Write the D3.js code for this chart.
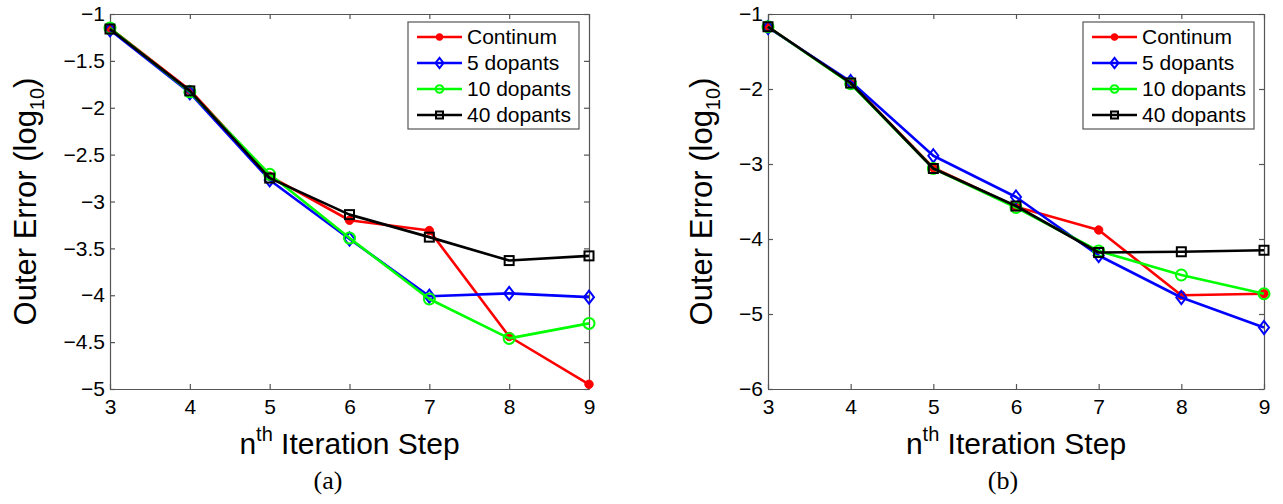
<!DOCTYPE html>
<html><head><meta charset="utf-8">
<script src="https://cdn.jsdelivr.net/npm/d3@7"></script>
<style>body{margin:0;background:#fff}svg{display:block}</style>
</head><body>
<svg id="c" width="1283" height="504"></svg>
<script>
// ---- data ----
const steps = [3, 4, 5, 6, 7, 8, 9];
const seriesNames = ["Continum", "5 dopants", "10 dopants", "40 dopants"];

const aContinum = [-1.15, -1.81, -2.73, -3.20, -3.31, -4.44, -4.95];
const aDop5     = [-1.17, -1.84, -2.77, -3.40, -4.01, -3.98, -4.02];
const aDop10    = [-1.15, -1.83, -2.71, -3.39, -4.04, -4.46, -4.30];
const aDop40    = [-1.16, -1.82, -2.75, -3.14, -3.38, -3.63, -3.58];

const bContinum = [-1.17, -1.92, -3.05, -3.57, -3.88, -4.75, -4.73];
const bDop5     = [-1.18, -1.90, -2.89, -3.44, -4.22, -4.78, -5.18];
const bDop10    = [-1.17, -1.93, -3.06, -3.58, -4.16, -4.48, -4.73];
const bDop40    = [-1.17, -1.92, -3.06, -3.56, -4.18, -4.17, -4.15];

const xTicks  = [3, 4, 5, 6, 7, 8, 9];
const aYTicks = [-1, -1.5, -2, -2.5, -3, -3.5, -4, -4.5, -5];
const bYTicks = [-1, -2, -3, -4, -5, -6];
const captions = ["(a)", "(b)"];

// ---- styles ----
const colors = ["#ff0000", "#0000ff", "#00ff00", "#000000"];
const markers = ["dot", "diamond", "circle", "square"];
const axisColor = "#555";
const sans = "'Liberation Sans', Arial, Helvetica, sans-serif";
const serif = "'Liberation Serif', 'DejaVu Serif', serif";

const svg = d3.select("#c");
const fmt = d => String(d).replace("-", "\u2212");

function drawMarker(g, type, color, x, y, legend) {
  const s = legend ? 0.8 : 1;
  if (type === "dot") {
    g.append("circle").attr("cx", x).attr("cy", y).attr("r", 4.2 * s)
      .attr("fill", color).attr("stroke", color).attr("stroke-width", 1);
  } else if (type === "diamond") {
    const w = 5 * s, h = 6.5 * s;
    g.append("path").attr("d", `M${x},${y - h}L${x + w},${y}L${x},${y + h}L${x - w},${y}Z`)
      .attr("fill", "none").attr("stroke", color).attr("stroke-width", 2);
  } else if (type === "circle") {
    g.append("circle").attr("cx", x).attr("cy", y).attr("r", (legend ? 3.8 : 5.5))
      .attr("fill", "none").attr("stroke", color).attr("stroke-width", 2);
  } else {
    const h = legend ? 3.5 : 4.5;
    g.append("rect").attr("x", x - h).attr("y", y - h).attr("width", 2 * h).attr("height", 2 * h)
      .attr("fill", "none").attr("stroke", color).attr("stroke-width", 2);
  }
}

function panel(cfg) {
  const { left, right, top, bottom, yDomain, yTicks, series, legendX, caption, ylabelX, captionX } = cfg;
  const x = d3.scaleLinear().domain([3, 9]).range([left, right]);
  const y = d3.scaleLinear().domain(yDomain).range([top, bottom]);
  const g = svg.append("g");

  const styleAxis = (sel) => {
    sel.attr("font-size", 21).attr("font-family", sans);
    sel.select(".domain").attr("stroke", axisColor).attr("stroke-width", 1.2);
    sel.selectAll(".tick line").attr("stroke", axisColor).attr("stroke-width", 1.2);
    sel.selectAll(".tick text").attr("fill", "#000").style("font-size", "21px").style("font-family", sans);
  };
  const bx = g.append("g").attr("transform", `translate(0,${bottom})`)
    .call(d3.axisBottom(x).tickValues(xTicks).tickSizeInner(-5).tickSizeOuter(0).tickPadding(10).tickFormat(d => d));
  styleAxis(bx);
  const tx = g.append("g").attr("transform", `translate(0,${top})`)
    .call(d3.axisTop(x).tickValues(xTicks).tickSizeInner(-5).tickSizeOuter(0).tickFormat(""));
  styleAxis(tx);
  const ly = g.append("g").attr("transform", `translate(${left},0)`)
    .call(d3.axisLeft(y).tickValues(yTicks).tickSizeInner(-5).tickSizeOuter(0).tickPadding(5).tickFormat(fmt));
  styleAxis(ly);
  const ry = g.append("g").attr("transform", `translate(${right},0)`)
    .call(d3.axisRight(y).tickValues(yTicks).tickSizeInner(-5).tickSizeOuter(0).tickFormat(""));
  styleAxis(ry);

  const line = d3.line().x((d, i) => x(steps[i])).y(d => y(d));
  series.forEach((vals, k) => {
    g.append("path").datum(vals).attr("d", line).attr("fill", "none")
      .attr("stroke", colors[k]).attr("stroke-width", 2.6).attr("stroke-linejoin", "round");
    vals.forEach((v, i) => drawMarker(g, markers[k], colors[k], x(steps[i]), y(v), false));
  });

  const lg = g.append("g");
  const lw = 171, lh = 107, ly0 = 22;
  lg.append("rect").attr("x", legendX).attr("y", ly0).attr("width", lw).attr("height", lh)
    .attr("fill", "#fff").attr("stroke", axisColor).attr("stroke-width", 1.2);
  seriesNames.forEach((nm, k) => {
    const yy = ly0 + 15 + k * 26;
    lg.append("line").attr("x1", legendX + 9).attr("x2", legendX + 54).attr("y1", yy).attr("y2", yy)
      .attr("stroke", colors[k]).attr("stroke-width", 2.6);
    drawMarker(lg, markers[k], colors[k], legendX + 31.5, yy, true);
    lg.append("text").attr("x", legendX + 59).attr("y", yy).attr("dy", "0.35em")
      .attr("font-family", sans).attr("font-size", 21).attr("fill", "#000").text(nm);
  });

  const xl = g.append("text").attr("x", (left + right) / 2).attr("y", 454).attr("text-anchor", "middle")
    .attr("font-family", sans).attr("font-size", 30).attr("fill", "#000");
  xl.append("tspan").text("n");
  xl.append("tspan").attr("font-size", 20).attr("dy", -13).text("th");
  xl.append("tspan").attr("dy", 13).text(" Iteration Step");

  const yl = g.append("text").attr("transform", `translate(${ylabelX},${(top + bottom) / 2}) rotate(-90)`)
    .attr("text-anchor", "middle").attr("font-family", sans).attr("font-size", 31).attr("fill", "#000");
  yl.append("tspan").text("Outer Error (log");
  yl.append("tspan").attr("font-size", 20).attr("dy", 8).text("10");
  yl.append("tspan").attr("dy", -8).text(")");

  g.append("text").attr("x", captionX).attr("y", 489).attr("text-anchor", "middle")
    .attr("font-family", serif).attr("font-size", 26).attr("fill", "#000").text(caption);
}

panel({ left: 110, right: 589, top: 14, bottom: 389, yDomain: [-1, -5], yTicks: aYTicks,
  series: [aContinum, aDop5, aDop10, aDop40], legendX: 408, caption: captions[0], ylabelX: 36, captionX: 328 });
panel({ left: 768, right: 1264, top: 14, bottom: 389, yDomain: [-1, -6], yTicks: bYTicks,
  series: [bContinum, bDop5, bDop10, bDop40], legendX: 1083, caption: captions[1], ylabelX: 712, captionX: 1003 });
</script>
</body></html>
